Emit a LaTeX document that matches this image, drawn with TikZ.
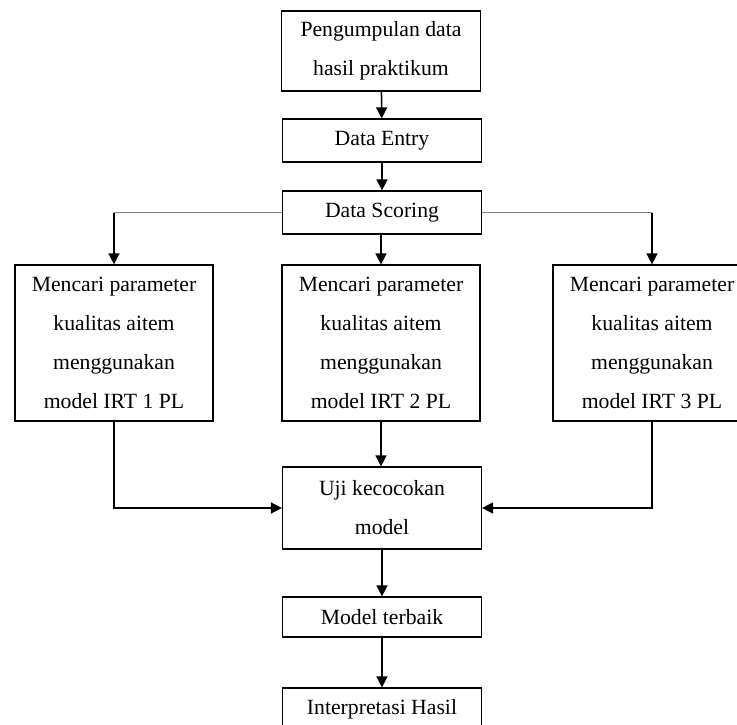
\documentclass[tikz,border=0pt]{standalone}
\usepackage{fontspec}
\setmainfont{Liberation Serif}
\usetikzlibrary{arrows.meta}

\begin{document}
\begin{tikzpicture}[x=1pt, y=-1pt,
  box/.style={draw, line width=1.2pt, minimum width=199pt, inner sep=0pt, align=center, font=\fontsize{21.7}{39}\selectfont},
  arr/.style={-{Triangle[length=11pt,width=11pt]}, line width=1.5pt},
  thinline/.style={gray, line width=0.8pt}]
\useasboundingbox (0,0) rectangle (737,725);
% boxes down the middle
\node[box, minimum height=80pt] (kumpul) at (381,51) {Pengumpulan data\\hasil praktikum};
\node[box, minimum height=43pt] (entry) at (382,140.5) {Data Entry};
\node[box, minimum height=43pt] (scoring) at (382,212.5) {Data Scoring};
\node[box, minimum width=198pt, minimum height=156pt] (irt1) at (114,343) {Mencari parameter\\kualitas aitem\\menggunakan\\model IRT 1 PL};
\node[box, minimum width=198pt, minimum height=156pt] (irt2) at (381,343) {Mencari parameter\\kualitas aitem\\menggunakan\\model IRT 2 PL};
\node[box, minimum width=198pt, minimum height=156pt] (irt3) at (652,343) {Mencari parameter\\kualitas aitem\\menggunakan\\model IRT 3 PL};
\node[box, minimum height=82pt] (uji) at (382,508) {Uji kecocokan\\model};
\node[box, minimum height=40pt] (terbaik) at (382,617) {Model terbaik};
\node[box, minimum height=43pt] (hasil) at (382,709.5) {Interpretasi Hasil};
\coordinate (kiri) at (scoring.west -| irt1.north);
\coordinate (kanan) at (scoring.east -| irt3.north);
% arrows
\draw[arr] (kumpul) -- (entry);
\draw[arr] (entry) -- (scoring);
\draw[arr] (scoring.south -| irt2.north) -- (irt2.north);
\draw[thinline] (scoring.west) -- (kiri);
\draw[thinline] (scoring.east) -- (kanan);
\draw[arr] (kiri) -- (irt1.north);
\draw[arr] (kanan) -- (irt3.north);
\draw[arr] (irt1.south) |- (uji.west);
\draw[arr] (irt3.south) |- (uji.east);
\draw[arr] (irt2.south) -- (irt2.south |- uji.north);
\draw[arr] (uji) -- (terbaik);
\draw[arr] (terbaik) -- (hasil);
\end{tikzpicture}
\end{document}
